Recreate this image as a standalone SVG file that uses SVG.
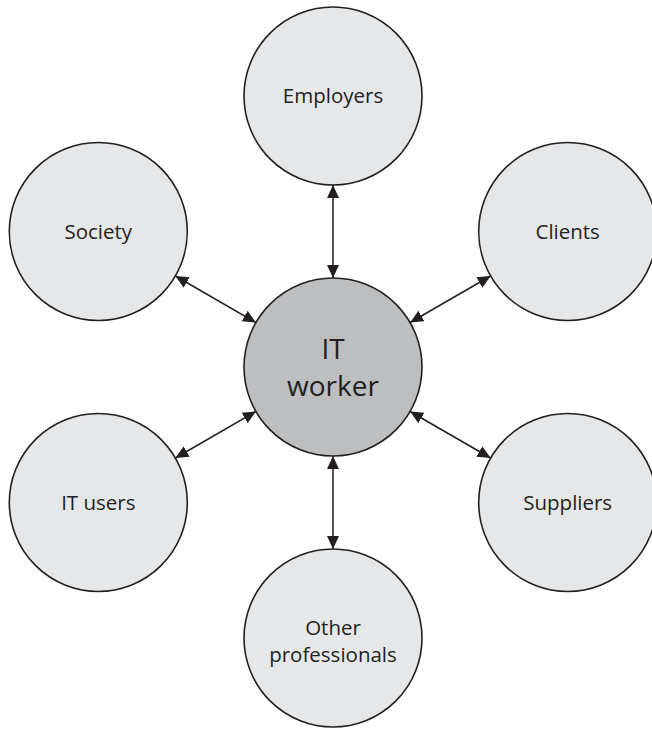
<svg xmlns="http://www.w3.org/2000/svg" width="652" height="730" viewBox="0 0 652 730">
<style>
.outer{fill:#e6e7e8;stroke:#231f20;stroke-width:1.6}
.center{fill:#bcbec0;stroke:#231f20;stroke-width:1.6}
.lbl{font-family:"Open Sans","Noto Sans","Liberation Sans",sans-serif;font-size:20.5px;fill:#231f20;text-anchor:middle}
.big{font-size:28px}
.conn{stroke:#231f20;stroke-width:1.5;fill:none;marker-start:url(#ah);marker-end:url(#ah)}
</style>
<defs>
<marker id="ah" markerUnits="userSpaceOnUse" markerWidth="14" markerHeight="13" refX="13" refY="6.5" orient="auto-start-reverse" viewBox="0 0 14 13">
<path d="M0,0.5 L13,6.5 L0,12.5 z" fill="#231f20"/>
</marker>
</defs>
<g id="connectors">
<line class="conn" x1="333" y1="185" x2="333" y2="278"/>
<line class="conn" x1="333" y1="456" x2="333" y2="549"/>
<line class="conn" x1="175.4" y1="276" x2="255.9" y2="322.5"/>
<line class="conn" x1="490.6" y1="276" x2="410.1" y2="322.5"/>
<line class="conn" x1="175.4" y1="458" x2="255.9" y2="411.5"/>
<line class="conn" x1="490.6" y1="458" x2="410.1" y2="411.5"/>
</g>
<g id="employers">
<circle class="outer" cx="333" cy="96" r="89"/>
<text class="lbl" x="333" y="103">Employers</text>
</g>
<g id="society">
<circle class="outer" cx="98.3" cy="231.5" r="89"/>
<text class="lbl" x="98.3" y="238.5">Society</text>
</g>
<g id="clients">
<circle class="outer" cx="567.7" cy="231.5" r="89"/>
<text class="lbl" x="567.7" y="238.5">Clients</text>
</g>
<g id="it-users">
<circle class="outer" cx="98.3" cy="502.5" r="89"/>
<text class="lbl" x="98.3" y="509.5">IT users</text>
</g>
<g id="suppliers">
<circle class="outer" cx="567.7" cy="502.5" r="89"/>
<text class="lbl" x="567.7" y="509.5">Suppliers</text>
</g>
<g id="other-professionals">
<circle class="outer" cx="333" cy="638" r="89"/>
<text class="lbl" x="333" y="635">Other</text>
<text class="lbl" x="333" y="662">professionals</text>
</g>
<g id="it-worker">
<circle class="center" cx="333" cy="367" r="89"/>
<text class="lbl big" x="333" y="359">IT</text>
<text class="lbl big" x="333" y="396">worker</text>
</g>
</svg>
